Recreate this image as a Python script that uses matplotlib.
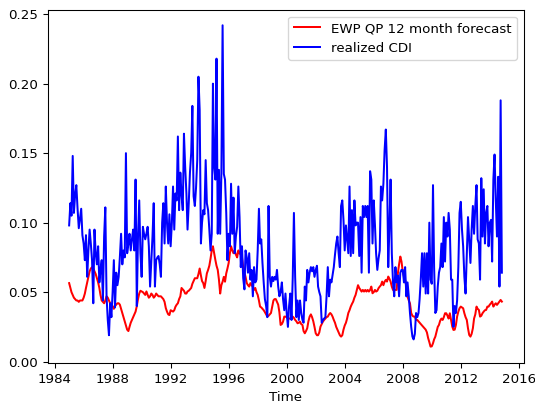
# %%
import pandas as pd
import matplotlib

matplotlib.use("Agg")
import matplotlib.pyplot as plt
import matplotlib.dates as mdates

# %%
# monthly values, Jan 1985 .. Nov 2014
start = "1985-01-01"

forecast = [
    0.0565, 0.053, 0.050, 0.048, 0.046, 0.045, 0.044, 0.044, 0.043, 0.044, 0.044, 0.044,  # 1985
    0.046, 0.049, 0.053, 0.057, 0.061, 0.065, 0.067, 0.068, 0.067, 0.065, 0.063, 0.060,  # 1986
    0.057, 0.053, 0.048, 0.044, 0.043, 0.042, 0.044, 0.047, 0.046, 0.044, 0.042, 0.040,  # 1987
    0.040, 0.038, 0.040, 0.041, 0.042, 0.042, 0.041, 0.038, 0.035, 0.032, 0.029, 0.026,  # 1988
    0.023, 0.022, 0.025, 0.028, 0.030, 0.032, 0.034, 0.036, 0.040, 0.045, 0.049, 0.051,  # 1989
    0.0505, 0.050, 0.049, 0.048, 0.0505, 0.048, 0.046, 0.047, 0.049, 0.048, 0.046, 0.047,  # 1990
    0.049, 0.048, 0.047, 0.047, 0.047, 0.046, 0.045, 0.043, 0.0385, 0.036, 0.034, 0.0335,  # 1991
    0.037, 0.0365, 0.036, 0.037, 0.0395, 0.041, 0.042, 0.045, 0.047, 0.053, 0.052, 0.051,  # 1992
    0.049, 0.049, 0.0505, 0.051, 0.052, 0.053, 0.056, 0.058, 0.060, 0.060, 0.060, 0.063,  # 1993
    0.067, 0.062, 0.058, 0.0565, 0.053, 0.058, 0.0635, 0.066, 0.069, 0.074, 0.080, 0.083,  # 1994
    0.078, 0.073, 0.069, 0.066, 0.059, 0.049, 0.055, 0.0575, 0.061, 0.0575, 0.0635, 0.067,  # 1995
    0.071, 0.078, 0.083, 0.080, 0.078, 0.080, 0.077, 0.075, 0.080, 0.078, 0.077, 0.075,  # 1996
    0.068, 0.064, 0.061, 0.0565, 0.055, 0.054, 0.0565, 0.055, 0.054, 0.0516, 0.053, 0.050,  # 1997
    0.048, 0.044, 0.0396, 0.039, 0.038, 0.037, 0.0356, 0.034, 0.0324, 0.033, 0.034, 0.035,  # 1998
    0.0396, 0.044, 0.045, 0.045, 0.043, 0.041, 0.0356, 0.0264, 0.027, 0.0288, 0.0324, 0.0324,  # 1999
    0.032, 0.031, 0.031, 0.031, 0.031, 0.0324, 0.0315, 0.030, 0.029, 0.0276, 0.028, 0.0288,  # 2000
    0.027, 0.0264, 0.022, 0.0204, 0.022, 0.024, 0.029, 0.0324, 0.034, 0.032, 0.029, 0.025,  # 2001
    0.0204, 0.019, 0.019, 0.021, 0.0252, 0.027, 0.0288, 0.030, 0.031, 0.032, 0.0324, 0.034,  # 2002
    0.035, 0.034, 0.0324, 0.030, 0.028, 0.025, 0.023, 0.021, 0.019, 0.018, 0.019, 0.023,  # 2003
    0.026, 0.028, 0.031, 0.035, 0.037, 0.0396, 0.0415, 0.0432, 0.046, 0.048, 0.0516, 0.055,  # 2004
    0.053, 0.0516, 0.0504, 0.0516, 0.0504, 0.0516, 0.0504, 0.0516, 0.0504, 0.0516, 0.054, 0.0492,  # 2005
    0.050, 0.0516, 0.0504, 0.051, 0.0528, 0.054, 0.055, 0.0576, 0.055, 0.0575, 0.0588, 0.0576,  # 2006
    0.0612, 0.0595, 0.0576, 0.054, 0.0516, 0.0516, 0.0516, 0.0516, 0.0636, 0.070, 0.0756, 0.072,  # 2007
    0.065, 0.0612, 0.0588, 0.054, 0.0468, 0.044, 0.042, 0.035, 0.033, 0.0324, 0.0324, 0.030,  # 2008
    0.030, 0.029, 0.028, 0.027, 0.026, 0.025, 0.024, 0.023, 0.021, 0.017, 0.014, 0.0108,  # 2009
    0.011, 0.0132, 0.016, 0.018, 0.0216, 0.025, 0.0264, 0.0295, 0.031, 0.030, 0.032, 0.0348,  # 2010
    0.0348, 0.033, 0.031, 0.0348, 0.030, 0.0252, 0.0228, 0.023, 0.0264, 0.0324, 0.036, 0.0384,  # 2011
    0.0396, 0.039, 0.0384, 0.0348, 0.032, 0.030, 0.024, 0.0192, 0.018, 0.020, 0.024, 0.031,  # 2012
    0.034, 0.0396, 0.038, 0.0372, 0.0324, 0.033, 0.0348, 0.036, 0.037, 0.0372, 0.0396, 0.0396,  # 2013
    0.041, 0.042, 0.0432, 0.0396, 0.041, 0.042, 0.0408, 0.042, 0.0432, 0.0444, 0.0432,  # 2014
]

realized = [
    0.098, 0.114, 0.105, 0.148, 0.107, 0.120, 0.127, 0.110, 0.096, 0.103, 0.110, 0.091,  # 1985
    0.085, 0.073, 0.091, 0.061, 0.080, 0.095, 0.085, 0.073, 0.042, 0.095, 0.078, 0.070,  # 1986
    0.083, 0.057, 0.066, 0.073, 0.044, 0.090, 0.111, 0.047, 0.030, 0.019, 0.042, 0.032,  # 1987
    0.050, 0.073, 0.039, 0.064, 0.055, 0.061, 0.075, 0.092, 0.070, 0.080, 0.075, 0.150,  # 1988
    0.078, 0.085, 0.092, 0.080, 0.088, 0.095, 0.080, 0.131, 0.040, 0.090, 0.116, 0.078,  # 1989
    0.061, 0.097, 0.092, 0.088, 0.092, 0.097, 0.083, 0.054, 0.073, 0.090, 0.114, 0.054,  # 1990
    0.073, 0.075, 0.076, 0.070, 0.061, 0.100, 0.114, 0.085, 0.126, 0.100, 0.085, 0.106,  # 1991
    0.083, 0.100, 0.126, 0.095, 0.121, 0.116, 0.162, 0.109, 0.136, 0.120, 0.109, 0.164,  # 1992
    0.140, 0.121, 0.095, 0.114, 0.136, 0.150, 0.184, 0.119, 0.112, 0.125, 0.145, 0.205,  # 1993
    0.181, 0.085, 0.100, 0.109, 0.106, 0.145, 0.114, 0.109, 0.095, 0.080, 0.092, 0.200,  # 1994
    0.140, 0.131, 0.218, 0.092, 0.138, 0.092, 0.135, 0.242, 0.135, 0.131, 0.107, 0.073,  # 1995
    0.092, 0.083, 0.128, 0.092, 0.118, 0.078, 0.090, 0.097, 0.126, 0.104, 0.068, 0.083,  # 1996
    0.060, 0.052, 0.080, 0.075, 0.064, 0.078, 0.059, 0.066, 0.047, 0.068, 0.057, 0.059,  # 1997
    0.080, 0.110, 0.085, 0.088, 0.071, 0.057, 0.045, 0.040, 0.032, 0.112, 0.061, 0.054,  # 1998
    0.061, 0.058, 0.061, 0.059, 0.066, 0.054, 0.047, 0.050, 0.057, 0.045, 0.037, 0.049,  # 1999
    0.035, 0.025, 0.040, 0.049, 0.030, 0.060, 0.107, 0.061, 0.032, 0.044, 0.030, 0.044,  # 2000
    0.035, 0.030, 0.028, 0.054, 0.044, 0.066, 0.057, 0.064, 0.068, 0.065, 0.068, 0.061,  # 2001
    0.066, 0.069, 0.054, 0.050, 0.047, 0.028, 0.030, 0.031, 0.032, 0.047, 0.068, 0.047,  # 2002
    0.059, 0.057, 0.062, 0.068, 0.077, 0.085, 0.090, 0.078, 0.068, 0.112, 0.116, 0.102,  # 2003
    0.080, 0.098, 0.088, 0.078, 0.126, 0.076, 0.109, 0.078, 0.116, 0.098, 0.100, 0.100,  # 2004
    0.076, 0.104, 0.064, 0.112, 0.104, 0.112, 0.104, 0.112, 0.064, 0.137, 0.131, 0.085,  # 2005
    0.116, 0.098, 0.078, 0.066, 0.074, 0.080, 0.126, 0.116, 0.128, 0.152, 0.167, 0.140,  # 2006
    0.068, 0.098, 0.131, 0.078, 0.057, 0.047, 0.068, 0.057, 0.062, 0.047, 0.064, 0.066,  # 2007
    0.066, 0.057, 0.068, 0.047, 0.057, 0.047, 0.035, 0.025, 0.018, 0.016, 0.020, 0.035,  # 2008
    0.032, 0.035, 0.045, 0.060, 0.078, 0.054, 0.078, 0.049, 0.078, 0.049, 0.100, 0.059,  # 2009
    0.056, 0.127, 0.068, 0.035, 0.037, 0.054, 0.064, 0.068, 0.085, 0.068, 0.104, 0.072,  # 2010
    0.100, 0.090, 0.107, 0.095, 0.059, 0.059, 0.025, 0.040, 0.035, 0.044, 0.068, 0.107,  # 2011
    0.115, 0.095, 0.083, 0.061, 0.049, 0.078, 0.104, 0.088, 0.071, 0.095, 0.112, 0.092,  # 2012
    0.112, 0.127, 0.088, 0.085, 0.059, 0.132, 0.090, 0.124, 0.085, 0.107, 0.112, 0.083,  # 2013
    0.100, 0.102, 0.072, 0.131, 0.149, 0.116, 0.090, 0.133, 0.054, 0.188, 0.064,  # 2014
]

dates = pd.date_range(start, periods=len(forecast), freq="MS")

# %%
fig = plt.figure(figsize=(535 / 96, 405 / 96), dpi=96)
ax = fig.add_axes([47.5 / 535, 41.7 / 405, 476 / 535, 353.3 / 405])

ax.plot(dates, forecast, color="red", label="EWP QP 12 month forecast")
ax.plot(dates, realized, color="blue", label="realized CDI")

ax.xaxis.set_major_locator(mdates.YearLocator(4))
ax.xaxis.set_major_formatter(mdates.DateFormatter("%Y"))
ax.set_ylim(-0.0012, 0.253)
ax.set_xlabel("Time")
ax.legend(loc="upper right")

fig.savefig("out.png", dpi=96)
